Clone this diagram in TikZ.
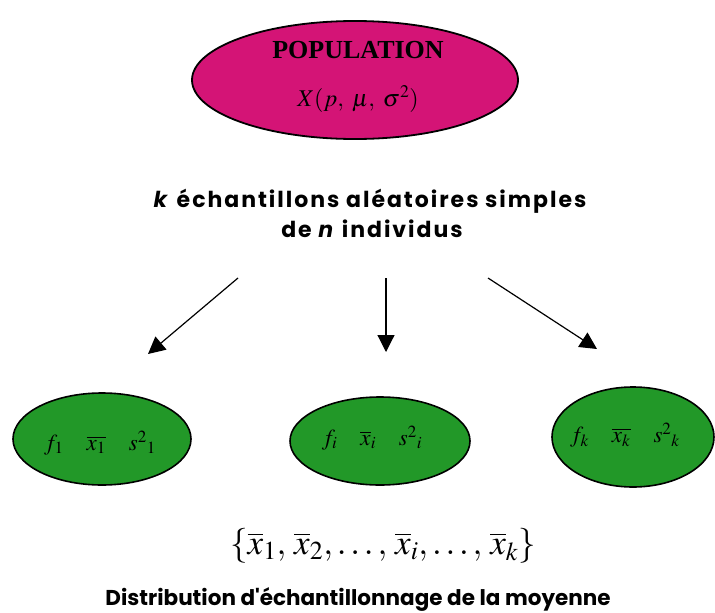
\documentclass[tikz,border=0pt]{standalone}
\usepackage{mathptmx}
\usepackage{fontspec}
\setmainfont{Liberation Serif}
\newfontfamily\comicfont{Poppins}[LetterSpace=9]
\newfontfamily\comicfontb{Poppins}
\usetikzlibrary{shapes.geometric,arrows.meta}

\definecolor{popmagenta}{RGB}{212,20,118}
\definecolor{echgreen}{RGB}{34,152,40}

\tikzset{
  popell/.style={ellipse, draw=black, line width=1.8pt, fill=popmagenta, inner sep=0pt},
  echell/.style={ellipse, draw=black, line width=1.6pt, fill=echgreen, inner sep=0pt},
  comictxt/.style={font=\comicfont\bfseries\fontsize{22}{26}\selectfont, inner sep=0pt},
  valtxt/.style={font=\fontsize{23}{27}\selectfont, inner sep=0pt},
  fleche/.style={line width=1.2pt, -{Triangle[length=17pt,width=17pt]}}
}

\begin{document}
\begin{tikzpicture}[x=1pt, y=-1pt]
    \useasboundingbox (0,0) rectangle (715,613);

    % population
    \node[popell, minimum width=326pt, minimum height=118pt] (pop) at (355,80) {};
    \node[font=\bfseries\fontsize{26}{30}\selectfont, inner sep=0pt] (poptitle) at (358,50) {POPULATION};
    \node[font=\fontsize{24}{28}\selectfont, inner sep=0pt] (poplaw) at (358,99) {$X(p,\;\mu,\;\sigma^2)$};

    % texte
    \node[comictxt] (ktxt) at (370,201) {\textit{k} échantillons aléatoires simples};
    \node[comictxt] (ntxt) at (372,229) {de \textit{n} individus};

    % echantillons
    \node[echell, minimum width=178pt, minimum height=92pt] (ech1) at (102,439) {};
    \node[echell, minimum width=180pt, minimum height=88pt] (echi) at (380,441) {};
    \node[echell, minimum width=162pt, minimum height=100pt] (echk) at (633,437) {};

    \node[valtxt] (val1) at (100,443) {$f_1 \quad \overline{x_1} \quad s^2{}_1$};
    \node[valtxt] (vali) at (372,438) {$f_i \quad \overline{x}_i \quad s^2{}_i$};
    \node[valtxt] (valk) at (625,435) {$f_k \quad \overline{x_k} \quad s^2{}_k$};

    % fleches
    \coordinate (d1) at (238,278);
    \coordinate (di) at (386,278);
    \coordinate (dk) at (488,278);
    \coordinate (a1) at (148,354);
    \coordinate (ai) at (386,352);
    \coordinate (ak) at (597,349);
    \draw[fleche] (d1) -- (a1);
    \draw[fleche] (di) -- (ai);
    \draw[fleche] (dk) -- (ak);

    % moyennes
    \node[font=\fontsize{35}{40}\selectfont, inner sep=0pt] (moy) at (383,546)
      {$\{\overline{x}_1,\, \overline{x}_2,\ldots,\, \overline{x}_i,\ldots,\, \overline{x}_k\}$};
    \node[font=\comicfontb\bfseries\fontsize{21.5}{26}\selectfont, inner sep=0pt] (distr) at (358,599)
      {Distribution d'échantillonnage de la moyenne};
\end{tikzpicture}
\end{document}
